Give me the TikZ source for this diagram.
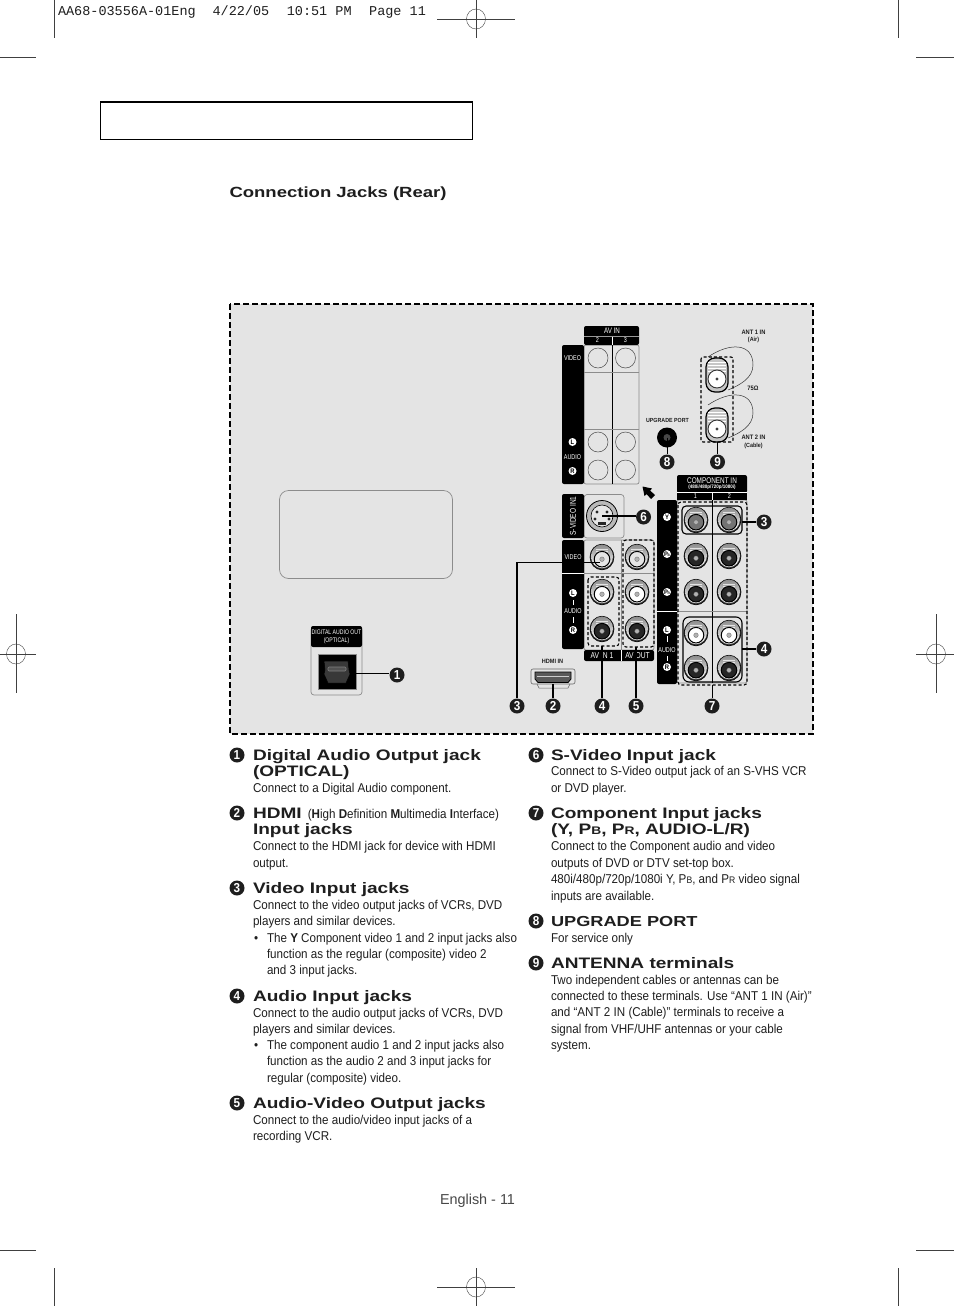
\documentclass[tikz,border=0pt]{standalone}
\usepackage{fontspec}
\setmainfont{Liberation Sans}
\newfontfamily\hdf[FakeStretch=1.255]{Liberation Sans Bold}
\newfontfamily\bdf[FakeStretch=0.908]{Liberation Sans}
\newfontfamily\bbf[FakeStretch=0.908]{Liberation Sans Bold}
\newfontfamily\dgf[FakeStretch=0.78]{Liberation Sans}
\newfontfamily\dbf[FakeStretch=0.9]{Liberation Sans Bold}
\newfontfamily\monof{Liberation Mono}
\definecolor{panelgrey}{HTML}{E4E4E4}
\definecolor{ink}{HTML}{1E1E1E}
\definecolor{wire}{HTML}{8C8C8C}
\tikzset{
  txt/.style={anchor=base west,inner sep=0pt,outer sep=0pt,text=ink},
  hd/.style={txt,font=\hdf\fontsize{15.2}{15.2}\selectfont},
  bd/.style={txt,yshift=0.6pt,font=\bdf\fontsize{12.8}{12.8}\selectfont},
  bigbadge/.style={circle,fill=ink,text=white,inner sep=0pt,minimum size=15pt,font=\dbf\fontsize{13}{13}\selectfont},
  lab/.style={inner sep=0pt,outer sep=0pt,text=white,font=\dgf\fontsize{7}{7}\selectfont},
  blab/.style={inner sep=0pt,outer sep=0pt,text=ink,font=\dbf\fontsize{6.4}{6.4}\selectfont,align=center},
  ltr/.style={circle,fill=white,text=black,inner sep=0pt,minimum size=8pt,font=\dbf\fontsize{6.5}{6.5}\selectfont},
  conn/.style={draw=black,line width=1.5pt},
  crop/.style={draw=black!75,line width=0.6pt},
  cell/.style={draw=wire,line width=0.7pt},
  dashbox/.style={draw=black,line width=1.1pt,dash pattern=on 3pt off 2.2pt},
}
\newcommand{\tl}[5]{\node[#4] (#1) at (#2,#3) {#5};}
\newcommand{\jack}[5]{% name x y radius centrecolour
  \coordinate (#1) at (#2,#3);
  \fill[black!80,draw=black,line width=0.6pt] (#1) ellipse[x radius=#4pt,y radius=#4pt+0.8pt];
  \shade[top color=black!45,bottom color=white] ([yshift=0.6pt]#1) ellipse[x radius=#4pt-1pt,y radius=#4pt-0.2pt];
  \foreach \sh in {-8,-6,-4}{\draw[white,line width=0.4pt,opacity=0.7] ([xshift=-6pt,yshift=-\sh pt]#1) -- ([xshift=6pt,yshift=-\sh pt]#1);}
  \fill[#5,draw=black,line width=1pt] ([yshift=-2.2pt]#1) circle[radius=#4pt-4.2pt];
  \fill[gray!60,draw=black!60,line width=0.3pt] ([yshift=-2.2pt]#1) circle[radius=2.3pt];
}
\newcommand{\jackx}[4]{\jack{#1}{#2}{#3}{12}{#4}}
\newcommand{\reg}[7]{% name cx cy x0 x1 y0 y1
  \coordinate (#1) at (#2,#3);
  \draw[crop] (#4,#3) -- (#5,#3);
  \draw[crop] (#2,#6) -- (#2,#7);
  \draw[crop,line width=0.4pt] (#1) ellipse[x radius=9.5pt,y radius=10pt];
}
\begin{document}
\begin{tikzpicture}[x=1pt,y=-1pt]
\useasboundingbox (0,0) rectangle (954,1306);
\fill[white] (0,0) rectangle (954,1306);

% crop marks
\draw[crop] (54.5,0) -- (54.5,38);
\draw[crop] (898.5,0) -- (898.5,38);
\draw[crop] (0,57) -- (36,57);
\draw[crop] (916,57) -- (954,57);
\draw[crop] (54.5,1268) -- (54.5,1306);
\draw[crop] (898.5,1268) -- (898.5,1306);
\draw[crop] (0,1250) -- (36,1250);
\draw[crop] (916,1250) -- (954,1250);
\reg{regt}{476}{19}{437}{515}{0}{38}
\reg{regb}{476}{1287}{437}{515}{1268}{1306}
\reg{regl}{16}{654}{0}{36}{614}{693}
\reg{regr}{936}{654}{916}{954}{614}{693}
\node[txt,font=\monof\fontsize{13.5}{13.5}\selectfont] (slug) at (58,15.5) {AA68-03556A-01Eng\hspace{1.25em}4/22/05\hspace{1.3em}10:51 PM\hspace{1.3em}Page 11};

% title box
\draw[black,line width=0.9pt] (100.5,102) rectangle (472.5,139.5);
\draw[black,line width=2pt] (100,102) -- (473,102);
\node[txt,font=\hdf\fontsize{14.75}{14.75}\selectfont] (title) at (229.5,197) {Connection Jacks (Rear)};

% panel
\fill[panelgrey] (230,304) rectangle (813,734);
\draw[black,line width=1.8pt,dash pattern=on 6pt off 3pt] (230,304) rectangle (813,734);

% large rounded box
\draw[draw=wire,line width=0.7pt,rounded corners=9pt] (279.5,490.5) rectangle (452.5,578.5);

% optical
\draw[cell,rounded corners=3pt] (311,627) rectangle (362,695);
\fill[black,rounded corners=2pt] (311,626) rectangle (362,647);
\node[lab,font=\dgf\fontsize{6.6}{6.6}\selectfont] (optA) at (336.5,632) {DIGITAL AUDIO OUT};
\node[lab,font=\dgf\fontsize{6.6}{6.6}\selectfont] (optB) at (336.5,641) {(OPTICAL)};
\fill[black,draw=wire,line width=0.7pt] (318,654.5) rectangle (356,689);
\fill[black!78,draw=black,line width=0.5pt] (324,661) -- (348,661) -- (349,670) -- (350,674) -- (346,683) -- (328,683) -- (324,674) -- (325,670) -- cycle;
\draw[black!50,line width=0.6pt,fill=black!68,rounded corners=1pt] (328,667) rectangle (346,671);
\coordinate (optjack) at (350,673.5);
\node[bigbadge] (b1) at (397,675) {1};
\draw[conn] (optjack) -- (optjack -| b1.west);

% AV IN 2/3
\draw[cell,rounded corners=2pt] (584,345) rectangle (639,484);
\fill[black,rounded corners=2pt] (584,326) rectangle (639,345);
\fill[black,rounded corners=2pt] (562,345) rectangle (584,484);
\draw[black!40,line width=0.4pt] (584,336.5) -- (639,336.5);
\draw[white,line width=0.6pt] (612,336.5) -- (612,345);
\draw[black,line width=0.7pt] (612,345) -- (612,484);
\draw[cell] (584,372) -- (639,372);
\draw[cell] (584,429) -- (639,429);
\node[lab,font=\dgf\fontsize{8}{8}\selectfont] (aA) at (612,331) {AV IN};
\node[lab] (aB) at (597.5,340.5) {2};
\node[lab] (aC) at (625.5,340.5) {3};
\node[lab] (aD) at (572.5,358) {VIDEO};
\node[ltr] (aE) at (572.5,442) {L};
\node[lab] (aF) at (572.5,457) {AUDIO};
\node[ltr] (aG) at (572.5,471) {R};
\draw[draw=black!70,line width=0.5pt,fill=panelgrey] (598,358) circle[radius=10pt];
\draw[draw=black!70,line width=0.5pt,fill=panelgrey] (625.5,358) circle[radius=10pt];
\draw[draw=black!70,line width=0.5pt,fill=panelgrey] (598,442) circle[radius=10pt];
\draw[draw=black!70,line width=0.5pt,fill=panelgrey] (625.5,442) circle[radius=10pt];
\draw[draw=black!70,line width=0.5pt,fill=panelgrey] (598,470) circle[radius=10pt];
\draw[draw=black!70,line width=0.5pt,fill=panelgrey] (625.5,470) circle[radius=10pt];

% antenna
\draw[black!80,line width=0.5pt] (708,357) .. controls (730,342) and (753,343) .. (753,365) .. controls (753,378) and (740,385) .. (728,390);
\draw[black!80,line width=0.5pt] (708,405) .. controls (730,390) and (753,391) .. (753,413) .. controls (753,426) and (740,433) .. (728,438);
\foreach \nm/\cy in {anta/375,antb/425}{
  \coordinate (\nm) at (717,\cy);
  \fill[gray!45,draw=black,line width=1.2pt,rounded corners=9pt] (706,\cy-17) rectangle (728,\cy+17);
  \foreach \dy in {-13,-10,-7,-4}{\draw[white,line width=0.9pt] (708,\cy+\dy) -- (726,\cy+\dy);}
  \fill[white,draw=black!80,line width=0.9pt] (717,\cy+4) circle[radius=9pt];
  \fill[black!75] (717,\cy+4) circle[radius=1.6pt];
}
\draw[dashbox,rounded corners=2pt] (701,357) rectangle (733,442);
\node[blab] (antA) at (753.5,332.5) {ANT 1 IN};
\node[blab,font=\dbf\fontsize{6}{6}\selectfont] (antB) at (753.5,340) {(Air)};
\node[blab] (antC) at (753,388.5) {75Ω};
\node[blab] (antD) at (753.5,437.5) {ANT 2 IN};
\node[blab,font=\dbf\fontsize{6}{6}\selectfont] (antE) at (753.5,445.5) {(Cable)};
\coordinate (antbot) at (717.5,442);
\node[bigbadge] (b9) at (717.5,462) {9};
\draw[conn] (antbot) -- (b9.north);

% upgrade port
\node[blab,font=\dbf\fontsize{5.9}{5.9}\selectfont] (upg) at (667.5,420) {UPGRADE PORT};
\coordinate (upjack) at (667,437.5);
\fill[black] (upjack) circle[radius=10pt];
\fill[black!72] (upjack) circle[radius=3.5pt];
\node[bigbadge] (b8) at (667,462) {8};
\draw[draw=black,line width=0.8pt] (upjack) -- (b8.north);

% arrow
\fill[black] (642.5,486.5) -- (652,488.5) -- (650,490.5) -- (655,495) -- (651,499) -- (646.5,494) -- (644.5,496) -- cycle;

% component in
\draw[cell,rounded corners=2pt] (677,500) rectangle (747,683);
\fill[black,rounded corners=2pt] (677,475) rectangle (747,493);
\fill[black] (677,493) rectangle (747,500);
\draw[white,line width=0.7pt] (677,492.5) -- (747,492.5);
\draw[white,line width=0.5pt] (712,493) -- (712,500);
\fill[black,rounded corners=2pt] (657,500) rectangle (677,684);
\draw[black,line width=0.5pt] (712,500) -- (712,683);
\draw[cell] (677,611) -- (747,611);
\draw[white,line width=0.7pt] (657,611) -- (677,611);
\node[lab,font=\dgf\fontsize{8.2}{8.2}\selectfont] (cA) at (712,481) {COMPONENT IN};
\node[lab,font=\dbf\fontsize{5}{5}\selectfont] (cB) at (712,487.5) {(480i/480p/720p/1080i)};
\node[lab] (cC) at (695.5,496.5) {1};
\node[lab] (cD) at (729.5,496.5) {2};
\node[ltr] (cY) at (667,517) {Y};
\node[ltr] (cPb) at (667,554) {P\kern-0.3pt\raisebox{-0.4pt}{\fontsize{3.5}{3.5}\selectfont B}};
\node[ltr] (cPr) at (667,592) {P\kern-0.3pt\raisebox{-0.4pt}{\fontsize{3.5}{3.5}\selectfont R}};
\node[ltr] (cL) at (667,630) {L};
\node[lab] (cE) at (667,650) {AUDIO};
\node[ltr] (cR) at (667,667) {R};
\draw[white,line width=0.4pt] (667,636) -- (667,642);
\draw[white,line width=0.4pt] (667,656) -- (667,661);
\jackx{cy1}{696}{520}{black!55}
\jackx{cy2}{729}{520}{black!55}
\jackx{cb1}{696}{556}{black!85}
\jackx{cb2}{729}{556}{black!85}
\jackx{cr1}{696}{592}{black!85}
\jackx{cr2}{729}{592}{black!85}
\jackx{cl1}{696}{633}{white}
\jackx{cl2}{729}{633}{white}
\jackx{ca1}{696}{668}{black!85}
\jackx{ca2}{729}{668}{black!85}
\draw[draw=black,line width=1.1pt,rounded corners=4pt] (682,506) rectangle (742,534);
\draw[draw=black,line width=1.1pt,rounded corners=6pt] (683,617) rectangle (742,682);
\draw[dashbox,rounded corners=3pt] (678,502) rectangle (747,685);
\coordinate (yboxr) at (742,522);
\coordinate (audboxr) at (742,649);
\coordinate (compbot) at (712,685);
\node[bigbadge] (b3r) at (764,522) {3};
\node[bigbadge] (b4r) at (764,649) {4};
\node[bigbadge] (b7) at (712,706) {7};
\draw[conn] (yboxr) -- (b3r.west);
\draw[conn] (audboxr) -- (b4r.west);
\draw[draw=black,line width=0.9pt] (compbot) -- (b7.north);

% S-video
\draw[cell,rounded corners=3pt] (584,494.5) rectangle (624,538);
\fill[black,rounded corners=2pt] (562,494) rectangle (584,538);
\node[lab,rotate=90,font=\dgf\fontsize{8.4}{8.4}\selectfont] (sv) at (573,516) {S-VIDEO IN1};
\coordinate (svj) at (602,516);
\fill[gray!55,draw=black,line width=0.8pt] (svj) circle[radius=15.5pt];
\fill[black!10,draw=black,line width=0.6pt] (svj) circle[radius=11pt];
\fill[black!85] (597,512) circle[radius=1.7pt];
\fill[black!85] (607,512) circle[radius=1.7pt];
\fill[black!85] (595,519) circle[radius=1.7pt];
\fill[black!85] (609,519) circle[radius=1.7pt];
\fill[black!85] (598,522) rectangle (606,525);
\node[bigbadge] (b6) at (643.5,517) {6};
\draw[conn] (svj) -- (b6.west |- svj);

% AV IN 1 / AV OUT
\draw[cell,rounded corners=2pt] (584,540) rectangle (654,650);
\fill[black,rounded corners=2pt] (562,540) rectangle (584,649);
\fill[black,rounded corners=2pt] (584,650) rectangle (654,661);
\draw[cell] (584,573) -- (654,573);
\draw[white,line width=0.7pt] (562,573) -- (584,573);
\draw[cell] (621,540) -- (621,650);
\draw[white,line width=0.5pt] (621,650) -- (621,661);
\node[lab] (dA) at (573,557) {VIDEO};
\node[ltr] (dB) at (573,593) {L};
\node[lab] (dC) at (573,611) {AUDIO};
\node[ltr] (dD) at (573,630) {R};
\draw[white,line width=0.4pt] (573,600) -- (573,605);
\draw[white,line width=0.4pt] (573,617) -- (573,623);
\node[lab,font=\dgf\fontsize{8.6}{8.6}\selectfont] (dE) at (602,656) {AV IN 1};
\node[lab,font=\dgf\fontsize{8.6}{8.6}\selectfont] (dF) at (637.5,656) {AV OUT};
\jackx{v1}{602}{557}{white!90!black}
\jackx{v2}{637}{557}{white!90!black}
\jackx{jl1}{602}{592}{white}
\jackx{jl2}{637}{592}{white}
\jackx{jr1}{602}{629}{black!85}
\jackx{jr2}{637}{629}{black!85}
\draw[dashbox,rounded corners=3pt] (588,577) rectangle (619,646);
\draw[dashbox,rounded corners=3pt] (623,540) rectangle (654,647);
\coordinate (inbot) at (602,646);
\coordinate (outbot) at (636,647);
\node[bigbadge] (b3) at (517,706) {3};
\node[bigbadge] (b4) at (602,706) {4};
\node[bigbadge] (b5) at (636,706) {5};
\draw[conn] (inbot) -- (b4.north);
\draw[conn] (outbot) -- (b5.north);
\coordinate (v1tap) at (600,562.5);
\draw[conn] (v1tap) -- (v1tap -| b3) -- (b3.north);

% HDMI
\node[blab,font=\dbf\fontsize{6.2}{6.2}\selectfont] (hA) at (552.5,661.5) {HDMI IN};
\draw[draw=black!60,fill=white!90!black,line width=0.6pt,rounded corners=2pt] (531,669) rectangle (575,684);
\fill[black!65,draw=black,line width=0.8pt] (535,672) -- (571,672) -- (571,679) -- (568,682.5) -- (538,682.5) -- (535,679) -- cycle;
\draw[white!80!black,line width=0.8pt] (537,676) -- (569,676);
\draw[draw=black!60,line width=0.5pt] (537,684) -- (539,688) -- (568,688) -- (570,684);
\coordinate (hbot) at (553,684);
\node[bigbadge] (b2) at (553,706) {2};
\draw[conn] (hbot) -- (b2.north);

% left text column
\node[bigbadge] (n1) at (237,755) {1};
\tl{t1a}{253}{760}{hd}{Digital Audio Output jack}
\tl{t1b}{253}{776}{hd}{(OPTICAL)}
\tl{t1c}{253}{793}{bd}{Connect to a Digital Audio component.}
\node[bigbadge] (n2) at (237,813) {2};
\tl{t2a}{253}{818}{hd}{HDMI\hspace{0.4em}{\bdf\fontsize{12.8}{12.8}\selectfont (}{\bbf\fontsize{12.8}{12.8}\selectfont H}{\bdf\fontsize{12.8}{12.8}\selectfont igh }{\bbf\fontsize{12.8}{12.8}\selectfont D}{\bdf\fontsize{12.8}{12.8}\selectfont efinition }{\bbf\fontsize{12.8}{12.8}\selectfont M}{\bdf\fontsize{12.8}{12.8}\selectfont ultimedia }{\bbf\fontsize{12.8}{12.8}\selectfont I}{\bdf\fontsize{12.8}{12.8}\selectfont nterface)}}
\tl{t2b}{253}{834.5}{hd}{Input jacks}
\tl{t2c}{253}{851}{bd}{Connect to the HDMI jack for device with HDMI}
\tl{t2d}{253}{868}{bd}{output.}
\node[bigbadge] (n3) at (237,888) {3};
\tl{t3a}{253}{893}{hd}{Video Input jacks}
\tl{t3b}{253}{910}{bd}{Connect to the video output jacks of VCRs, DVD}
\tl{t3c}{253}{926.5}{bd}{players and similar devices.}
\tl{t3d}{254}{943}{bd}{•}
\tl{t3e}{267}{943}{bd}{The {\bbf Y} Component video 1 and 2 input jacks also}
\tl{t3f}{267}{959}{bd}{function as the regular (composite) video 2}
\tl{t3g}{267}{975}{bd}{and 3 input jacks.}
\node[bigbadge] (n4) at (237,996) {4};
\tl{t4a}{253}{1001}{hd}{Audio Input jacks}
\tl{t4b}{253}{1018}{bd}{Connect to the audio output jacks of VCRs, DVD}
\tl{t4c}{253}{1034}{bd}{players and similar devices.}
\tl{t4d}{254}{1050}{bd}{•}
\tl{t4e}{267}{1050}{bd}{The component audio 1 and 2 input jacks also}
\tl{t4f}{267}{1066.5}{bd}{function as the audio 2 and 3 input jacks for}
\tl{t4g}{267}{1083}{bd}{regular (composite) video.}
\node[bigbadge] (n5) at (237,1103) {5};
\tl{t5a}{253}{1108}{hd}{Audio-Video Output jacks}
\tl{t5b}{253}{1125}{bd}{Connect to the audio/video input jacks of a}
\tl{t5c}{253}{1141}{bd}{recording VCR.}

% right text column
\node[bigbadge] (n6) at (536,755) {6};
\tl{t6a}{551}{760}{hd}{S-Video Input jack}
\tl{t6b}{551}{776}{bd}{Connect to S-Video output jack of an S-VHS VCR}
\tl{t6c}{551}{793}{bd}{or DVD player.}
\node[bigbadge] (n7) at (536,813) {7};
\tl{t7a}{551}{818}{hd}{Component Input jacks}
\tl{t7b}{551}{834.5}{hd}{(Y, P{\fontsize{11}{11}\selectfont B}, P{\fontsize{11}{11}\selectfont R}, AUDIO-L/R)}
\tl{t7c}{551}{851}{bd}{Connect to the Component audio and video}
\tl{t7d}{551}{868}{bd}{outputs of DVD or DTV set-top box.}
\tl{t7e}{551}{884.5}{bd}{480i/480p/720p/1080i Y, P{\fontsize{9.5}{9.5}\selectfont B}, and P{\fontsize{9.5}{9.5}\selectfont R} video signal}
\tl{t7f}{551}{901}{bd}{inputs are available.}
\node[bigbadge] (n8) at (536,921) {8};
\tl{t8a}{551}{926}{hd,font=\hdf\fontsize{14.5}{14.5}\selectfont}{UPGRADE PORT}
\tl{t8b}{551}{943}{bd}{For service only}
\node[bigbadge] (n9) at (536,963) {9};
\tl{t9a}{551}{968}{hd}{ANTENNA terminals}
\tl{t9b}{551}{985}{bd}{Two independent cables or antennas can be}
\tl{t9c}{551}{1001}{bd}{connected to these terminals. Use “ANT 1 IN (Air)”}
\tl{t9d}{551}{1017.5}{bd}{and “ANT 2 IN (Cable)” terminals to receive a}
\tl{t9e}{551}{1034}{bd}{signal from VHF/UHF antennas or your cable}
\tl{t9f}{551}{1050}{bd}{system.}

\node[txt,font=\fontsize{14.4}{14.4}\selectfont,text=black!72] (foot) at (440,1204) {English - 11};
\end{tikzpicture}
\end{document}
